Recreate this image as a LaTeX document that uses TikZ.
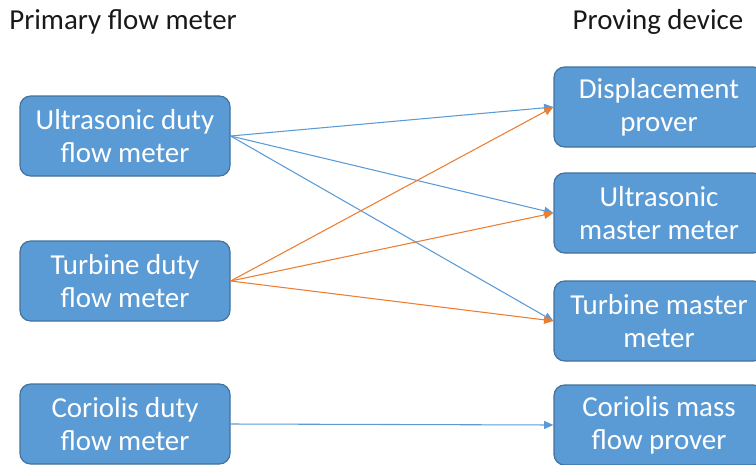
\documentclass[tikz,border=0pt]{standalone}
\usepackage{fontspec}
\setmainfont{Carlito}
\usetikzlibrary{arrows.meta}
\definecolor{boxblue}{HTML}{5B9BD5}
\definecolor{boxline}{HTML}{41719C}
\definecolor{linkblue}{HTML}{5B9BD5}
\definecolor{linkorange}{HTML}{ED7D31}
\begin{document}
\begin{tikzpicture}[
    x=0.75pt, y=-0.75pt,
    every node/.style={font=\fontsize{21.7}{24.75}\selectfont},
    meter/.style={draw=boxline, fill=boxblue, text=white, rounded corners=8pt,
      minimum width=157.5pt, minimum height=60pt, align=center, inner sep=0pt, line width=0.9pt},
    heading/.style={text=black!90, inner sep=0pt},
    blueflow/.style={draw=linkblue, line width=0.8pt, -{Triangle[length=7pt,width=6pt]}},
    orangeflow/.style={draw=linkorange, line width=0.8pt, -{Triangle[length=7pt,width=6pt]}}
  ]
  \useasboundingbox (0,0) rectangle (756,464);
  % headings
  \node[heading] (primary) at (123,22) {Primary flow meter};
  \node[heading] (proving) at (658,22) {Proving device};
  % duty meters
  \node[meter] (ultra) at (125,136) {Ultrasonic duty\\flow meter};
  \node[meter] (turb) at (125,281) {Turbine duty\\flow meter};
  \node[meter] (cori) at (125,424) {Coriolis duty\\flow meter};
  % proving devices
  \node[meter] (disp) at (659,107) {Displacement\\prover};
  \node[meter] (umast) at (659,213) {Ultrasonic\\master meter};
  \node[meter] (tmast) at (659,321) {Turbine master\\meter};
  \node[meter] (cmass) at (659,425) {Coriolis mass\\flow prover};
  % links
  \draw[blueflow] (ultra.east) -- (disp.west);
  \draw[blueflow] (ultra.east) -- (umast.west);
  \draw[blueflow] (ultra.east) -- (tmast.west);
  \draw[orangeflow] (turb.east) -- (disp.west);
  \draw[orangeflow] (turb.east) -- (umast.west);
  \draw[orangeflow] (turb.east) -- (tmast.west);
  \draw[blueflow] (cori.east) -- (cmass.west);
\end{tikzpicture}
\end{document}
